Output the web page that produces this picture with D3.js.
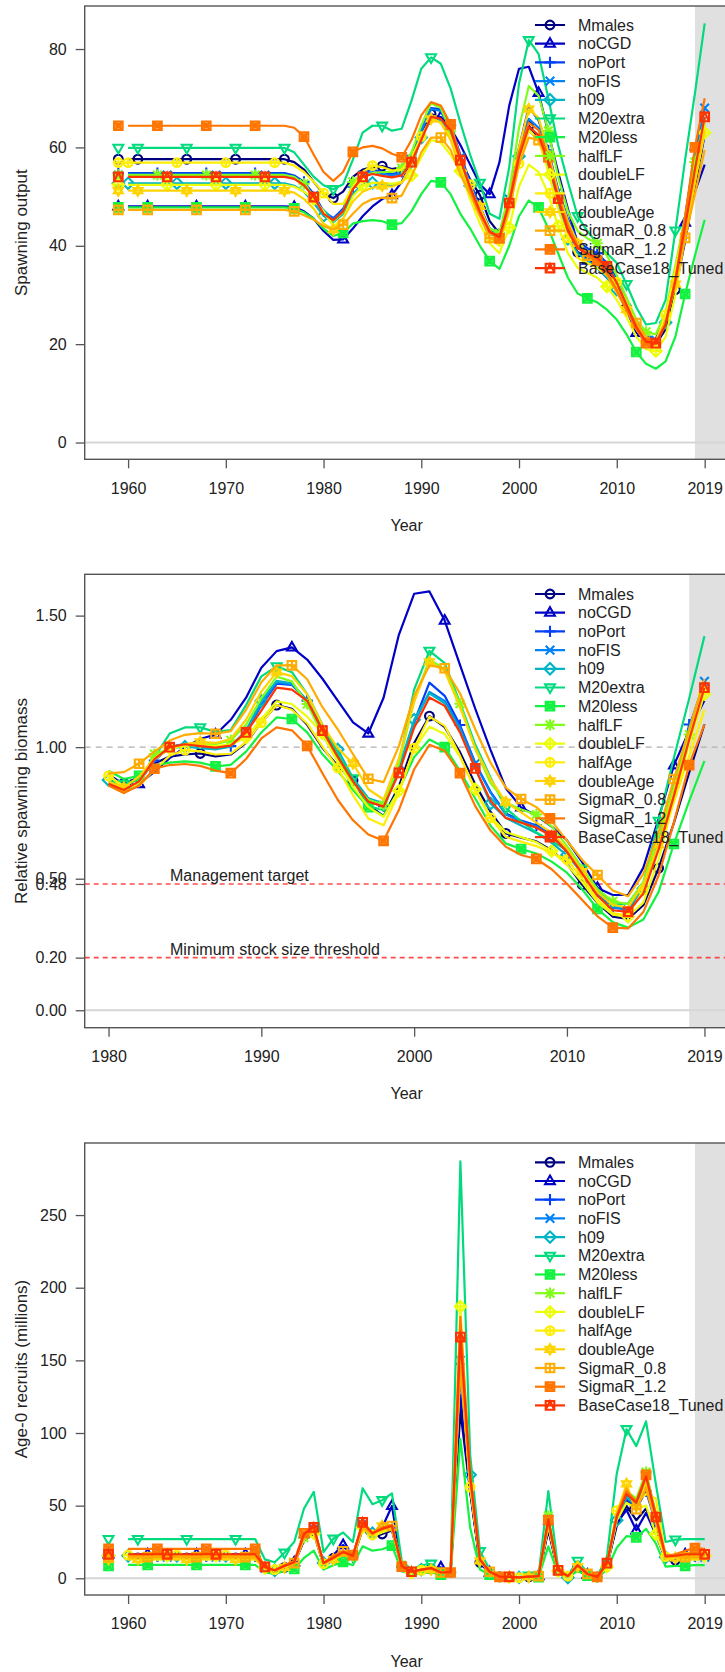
<!DOCTYPE html>
<html><head><meta charset="utf-8">
<script src="https://cdn.jsdelivr.net/npm/d3@7"></script>
<style>
body{margin:0;background:#fff;}
svg{display:block;font-family:"Liberation Sans",Arial,Helvetica,sans-serif;}
</style></head><body>
<svg id="chart" width="725" height="1672"></svg>
<script>
// ---------------- DATA ----------------
const modelNames = ["Mmales","noCGD","noPort","noFIS","h09","M20extra","M20less","halfLF","doubleLF","halfAge","doubleAge","SigmaR_0.8","SigmaR_1.2","BaseCase18_Tuned"];
const modelColors = ["#00007E","#0000C6","#0041F8","#0081F8","#00B4C6","#02DA7E","#13F240","#80FE1A","#ECFD08","#FDEE02","#FFD300","#FFAB00","#FF7500","#FF3300"];

const yearsAll = [1960,1961,1962,1963,1964,1965,1966,1967,1968,1969,1970,1971,1972,1973,1974,1975,1976,1977,1978,1979,1980,1981,1982,1983,1984,1985,1986,1987,1988,1989,1990,1991,1992,1993,1994,1995,1996,1997,1998,1999,2000,2001,2002,2003,2004,2005,2006,2007,2008,2009,2010,2011,2012,2013,2014,2015,2016,2017,2018,2019];
const yearsRel = [1980,1981,1982,1983,1984,1985,1986,1987,1988,1989,1990,1991,1992,1993,1994,1995,1996,1997,1998,1999,2000,2001,2002,2003,2004,2005,2006,2007,2008,2009,2010,2011,2012,2013,2014,2015,2016,2017,2018,2019];

// Spawning output (1960-2019)
const SO_Mmales = [57.6,57.6,57.6,57.6,57.6,57.6,57.6,57.6,57.6,57.6,57.6,57.6,57.6,57.6,57.6,57.6,57.6,57.0,55.5,53.0,50.5,49.7,51.0,54.0,55.5,56.0,56.2,55.6,56.0,58.5,63.0,66.8,66.0,62.5,57.5,53.5,50.3,45.0,42.5,49.0,58.5,64.4,62.0,56.5,49.5,43.5,38.7,37.8,37.0,35.0,32.0,27.5,23.5,20.5,20.0,23.0,31.1,41.0,52.0,62.6];
const SO_noCGD = [48.0,48.0,48.0,48.0,48.0,48.0,48.0,48.0,48.0,48.0,48.0,48.0,48.0,48.0,48.0,48.0,48.0,47.9,47.0,45.5,43.0,41.2,41.3,43.5,46.0,48.0,49.5,50.3,53.0,57.0,62.5,65.5,66.2,64.0,60.5,56.5,52.5,50.5,57.0,68.5,76.0,76.4,71.1,63.0,55.0,47.5,40.5,37.0,35.5,33.5,31.0,27.0,22.3,21.0,21.0,26.0,35.0,44.7,51.0,56.5];
const SO_noPort = [54.8,54.8,54.8,54.8,54.8,54.8,54.8,54.8,54.8,54.8,54.8,54.8,54.8,54.8,54.8,54.8,54.8,54.3,53.0,50.5,47.0,45.6,47.5,52.0,54.8,55.5,55.0,54.6,55.0,58.0,63.5,68.0,67.8,64.5,58.5,53.0,48.0,43.5,42.5,50.0,60.0,68.2,65.5,59.4,51.5,45.5,41.0,39.5,38.5,36.5,33.5,29.0,24.5,21.5,21.0,25.0,34.0,45.5,59.5,66.0];
const SO_noFIS = [54.4,54.4,54.4,54.4,54.4,54.4,54.4,54.4,54.4,54.4,54.4,54.4,54.4,54.4,54.4,54.4,54.4,53.9,52.6,50.2,46.8,45.4,47.2,51.8,54.4,55.0,54.6,54.3,54.7,57.6,63.2,67.8,67.4,64.0,58.0,52.5,47.5,43.2,42.2,49.5,59.5,65.8,64.0,58.5,51.0,45.0,40.5,39.0,38.0,36.0,33.0,28.5,24.0,21.2,20.8,25.0,34.5,46.0,58.5,68.0];
const SO_h09 = [52.7,52.7,52.7,52.7,52.7,52.7,52.7,52.7,52.7,52.7,52.7,52.7,52.7,52.7,52.7,52.7,52.7,52.2,51.0,48.7,46.1,44.8,46.5,50.5,52.5,52.8,52.5,52.2,52.8,56.0,62.0,66.0,65.5,62.0,56.5,52.2,46.5,42.5,41.5,48.5,58.2,63.5,61.5,56.0,48.5,41.4,38.5,37.0,35.5,33.5,31.1,27.5,23.5,21.0,20.5,24.4,33.5,45.0,56.5,65.0];
const SO_M20extra = [59.9,59.9,59.9,59.9,59.9,59.9,59.9,59.9,59.9,59.9,59.9,59.9,59.9,59.9,59.9,59.9,59.9,59.0,56.5,54.0,52.3,51.5,52.5,57.5,63.0,64.4,64.4,63.4,63.8,69.5,76.0,78.3,77.0,72.0,65.0,58.5,52.8,46.5,45.5,56.0,73.0,81.8,79.0,70.0,60.5,53.0,46.0,43.0,40.5,38.5,36.5,32.2,27.5,24.0,24.3,29.0,43.1,57.5,71.0,85.2];
const SO_M20less = [47.8,47.8,47.8,47.8,47.8,47.8,47.8,47.8,47.8,47.8,47.8,47.8,47.8,47.8,47.8,47.8,47.8,47.6,46.8,45.5,43.5,42.0,42.6,44.5,45.0,45.2,45.0,44.3,44.6,47.0,50.5,53.2,52.9,50.5,46.5,43.5,40.0,36.9,35.3,40.0,46.0,49.2,47.8,43.5,38.5,33.5,30.3,29.3,28.5,27.0,25.0,22.0,18.4,16.0,15.0,16.5,21.5,30.2,38.0,45.3];
const SO_halfLF = [54.4,54.4,54.4,54.4,54.4,54.4,54.4,54.4,54.4,54.4,54.4,54.4,54.4,54.4,54.4,54.4,54.4,54.0,52.6,50.0,46.5,45.0,46.8,53.0,54.0,54.8,55.0,55.0,55.8,59.0,64.5,69.0,68.0,63.3,57.0,51.5,47.0,43.5,42.5,51.0,64.0,72.5,70.5,63.4,54.0,47.0,43.0,41.5,40.5,38.0,34.0,29.5,25.0,22.5,22.0,26.5,36.0,46.0,57.0,66.0];
const SO_doubleLF = [52.4,52.4,52.4,52.4,52.4,52.4,52.4,52.4,52.4,52.4,52.4,52.4,52.4,52.4,52.4,52.4,52.4,52.0,51.0,49.5,47.0,44.0,45.5,50.0,52.2,52.8,52.8,52.6,53.0,54.3,58.0,61.5,61.0,58.5,55.2,49.5,44.5,40.5,38.5,43.7,52.0,56.5,55.0,50.5,44.0,38.5,35.5,34.5,33.5,31.7,29.0,25.5,21.5,19.0,18.6,21.5,30.0,42.0,53.0,63.0];
const SO_halfAge = [56.9,56.9,56.9,56.9,56.9,56.9,56.9,56.9,56.9,56.9,56.9,56.9,56.9,56.9,56.9,56.9,56.9,56.3,55.0,53.0,50.7,48.5,48.5,52.0,55.0,56.3,56.0,55.3,55.5,58.0,62.2,66.0,65.0,62.0,57.0,52.4,46.5,41.5,40.0,47.0,56.7,63.5,61.5,55.0,47.5,41.6,37.5,36.5,35.5,34.0,32.6,28.5,24.0,21.0,20.5,26.0,35.0,45.0,55.0,65.0];
const SO_doubleAge = [51.2,51.2,51.2,51.2,51.2,51.2,51.2,51.2,51.2,51.2,51.2,51.2,51.2,51.2,51.2,51.2,51.2,50.8,49.5,47.5,44.5,43.3,45.5,49.0,51.0,51.8,52.2,52.0,52.8,56.5,62.0,65.8,65.0,61.5,55.5,51.0,48.0,43.0,41.0,49.0,60.0,67.8,66.0,59.0,51.0,45.0,40.5,38.5,36.5,34.5,31.5,27.0,23.0,20.5,20.0,24.5,32.2,42.5,53.0,63.5];
const SO_SigmaR_0_8 = [47.3,47.3,47.3,47.3,47.3,47.3,47.3,47.3,47.3,47.3,47.3,47.3,47.3,47.3,47.3,47.3,47.3,47.0,46.2,45.3,44.0,43.3,44.3,46.5,48.5,49.5,49.8,49.7,50.2,54.0,59.0,62.0,62.0,59.5,54.5,50.5,46.0,41.6,41.0,47.5,56.5,62.0,61.5,57.0,50.5,44.5,40.0,38.0,36.5,34.0,30.5,27.0,24.3,21.5,20.5,24.5,32.0,41.6,50.5,59.5];
const SO_SigmaR_1_2 = [64.4,64.4,64.4,64.4,64.4,64.4,64.4,64.4,64.4,64.4,64.4,64.4,64.4,64.4,64.4,64.4,64.4,64.0,62.2,58.5,55.0,53.2,55.0,59.1,60.0,60.3,59.8,58.7,58.0,61.5,66.5,69.2,68.5,64.7,58.0,51.5,46.5,43.0,41.5,49.0,59.0,65.0,63.5,58.0,50.0,44.0,40.0,38.0,37.0,34.5,31.0,27.0,23.0,20.2,20.0,24.0,33.0,46.0,60.0,70.0];
const SO_BaseCase = [54.0,54.0,54.0,54.0,54.0,54.0,54.0,54.0,54.0,54.0,54.0,54.0,54.0,54.0,54.0,54.0,54.0,53.6,52.3,49.9,46.5,45.2,47.0,51.5,54.0,54.6,54.2,53.9,54.3,57.0,61.5,66.2,65.8,63.5,57.4,52.0,47.0,42.8,41.8,48.7,58.0,64.2,62.5,57.0,49.6,43.0,39.5,38.5,37.5,35.8,32.5,28.0,23.5,20.5,20.2,24.0,33.0,44.0,55.5,66.2];
// Virgin spawning output (plotted at 1959)
const SO_virgin = [57.6,48.0,54.8,54.4,52.7,59.9,47.8,54.4,52.4,56.9,51.2,47.3,64.4,54.0];

// Relative spawning biomass (1980-2019)
const RB_Mmales = [0.877,0.863,0.885,0.938,0.964,0.972,0.976,0.965,0.972,1.016,1.094,1.160,1.146,1.085,0.998,0.929,0.873,0.781,0.738,0.851,1.016,1.118,1.076,0.981,0.859,0.755,0.672,0.656,0.642,0.608,0.556,0.477,0.408,0.356,0.347,0.399,0.540,0.712,0.903,1.087];
const RB_noCGD = [0.896,0.858,0.860,0.906,0.958,1.000,1.031,1.048,1.104,1.188,1.302,1.365,1.379,1.333,1.260,1.177,1.094,1.052,1.188,1.427,1.583,1.592,1.481,1.313,1.146,0.990,0.844,0.771,0.740,0.698,0.646,0.563,0.465,0.438,0.438,0.542,0.729,0.931,1.063,1.177];
const RB_noPort = [0.858,0.832,0.867,0.949,1.000,1.013,1.004,0.996,1.004,1.058,1.159,1.241,1.237,1.177,1.068,0.967,0.876,0.794,0.776,0.912,1.095,1.245,1.195,1.084,0.940,0.830,0.748,0.721,0.703,0.666,0.611,0.529,0.447,0.392,0.383,0.456,0.620,0.830,1.086,1.204];
const RB_noFIS = [0.860,0.835,0.868,0.952,1.000,1.011,1.004,0.998,1.006,1.059,1.162,1.246,1.239,1.176,1.066,0.965,0.873,0.794,0.776,0.910,1.094,1.210,1.176,1.075,0.938,0.827,0.744,0.717,0.699,0.662,0.607,0.524,0.441,0.390,0.382,0.460,0.634,0.846,1.075,1.250];
const RB_h09 = [0.875,0.850,0.882,0.958,0.996,1.002,0.996,0.991,1.002,1.063,1.176,1.252,1.243,1.176,1.072,0.991,0.882,0.806,0.787,0.920,1.104,1.205,1.167,1.063,0.920,0.786,0.731,0.702,0.674,0.636,0.590,0.522,0.446,0.398,0.389,0.463,0.636,0.854,1.072,1.233];
const RB_M20extra = [0.873,0.860,0.876,0.960,1.052,1.075,1.075,1.058,1.065,1.160,1.269,1.307,1.285,1.202,1.085,0.977,0.881,0.776,0.760,0.935,1.219,1.366,1.319,1.169,1.010,0.885,0.768,0.718,0.676,0.643,0.609,0.538,0.459,0.401,0.406,0.484,0.720,0.960,1.185,1.422];
const RB_M20less = [0.910,0.879,0.891,0.931,0.941,0.946,0.941,0.927,0.933,0.983,1.056,1.113,1.107,1.056,0.973,0.910,0.837,0.772,0.738,0.837,0.962,1.029,1.000,0.910,0.805,0.701,0.634,0.613,0.596,0.565,0.523,0.460,0.385,0.335,0.314,0.345,0.450,0.632,0.795,0.948];
const RB_halfLF = [0.855,0.827,0.860,0.974,0.993,1.007,1.011,1.011,1.026,1.085,1.186,1.268,1.250,1.164,1.048,0.947,0.864,0.800,0.781,0.938,1.176,1.333,1.296,1.165,0.993,0.864,0.790,0.763,0.744,0.699,0.625,0.542,0.460,0.414,0.404,0.487,0.662,0.846,1.048,1.213];
const RB_doubleLF = [0.897,0.840,0.868,0.954,0.996,1.008,1.008,1.004,1.011,1.036,1.107,1.174,1.164,1.116,1.053,0.945,0.849,0.773,0.735,0.834,0.992,1.078,1.050,0.964,0.840,0.735,0.677,0.658,0.639,0.605,0.553,0.487,0.410,0.363,0.355,0.410,0.573,0.802,1.011,1.202];
const RB_halfAge = [0.891,0.852,0.852,0.914,0.967,0.989,0.984,0.972,0.975,1.019,1.093,1.160,1.142,1.090,1.002,0.921,0.817,0.729,0.703,0.826,0.996,1.116,1.081,0.967,0.835,0.731,0.659,0.641,0.624,0.598,0.573,0.501,0.422,0.369,0.360,0.457,0.615,0.791,0.967,1.142];
const RB_doubleAge = [0.869,0.846,0.889,0.957,0.996,1.012,1.020,1.016,1.031,1.104,1.211,1.285,1.270,1.201,1.084,0.996,0.938,0.840,0.801,0.957,1.172,1.324,1.289,1.152,0.996,0.879,0.791,0.752,0.713,0.674,0.615,0.527,0.449,0.400,0.391,0.479,0.629,0.830,1.035,1.240];
const RB_SigmaR_0_8 = [0.900,0.905,0.937,0.983,1.025,1.047,1.053,1.051,1.061,1.142,1.247,1.311,1.311,1.258,1.152,1.068,0.973,0.880,0.867,1.004,1.195,1.311,1.300,1.205,1.068,0.941,0.846,0.803,0.772,0.719,0.645,0.571,0.514,0.455,0.433,0.518,0.677,0.879,1.068,1.258];
const RB_SigmaR_1_2 = [0.854,0.826,0.854,0.918,0.932,0.936,0.929,0.911,0.901,0.955,1.033,1.075,1.064,1.005,0.901,0.800,0.722,0.668,0.644,0.761,0.916,1.009,0.986,0.901,0.776,0.683,0.621,0.590,0.575,0.536,0.481,0.419,0.357,0.314,0.311,0.373,0.512,0.714,0.932,1.087];
const RB_BaseCase = [0.861,0.837,0.870,0.954,1.000,1.011,1.004,0.998,1.006,1.056,1.139,1.226,1.219,1.176,1.063,0.963,0.870,0.793,0.774,0.902,1.074,1.189,1.157,1.056,0.919,0.796,0.731,0.713,0.694,0.663,0.602,0.519,0.435,0.380,0.374,0.444,0.611,0.815,1.028,1.226];

// Age-0 recruits, millions (1960-2019)
const REC_Mmales = [14.0,14.0,14.0,14.0,14.0,14.0,14.0,14.0,14.0,14.0,14.0,14.0,14.0,14.0,6.5,4.5,7.5,10.0,26.0,31.0,9.0,13.8,16.0,13.0,34.0,28.0,30.5,33.0,7.5,4.0,5.5,6.5,3.5,3.5,115.0,60.0,11.0,4.0,1.0,0.8,0.5,1.0,1.2,33.0,4.5,1.2,7.5,2.5,0.8,8.5,36.0,49.8,40.0,48.0,33.0,12.5,12.5,14.0,14.0,14.0];
const REC_noCGD = [16.5,16.5,16.5,16.5,16.5,16.5,16.5,16.5,16.5,16.5,16.5,16.5,16.5,16.5,6.5,4.5,7.5,11.0,27.0,33.0,9.5,16.0,22.9,15.0,34.0,30.0,35.0,49.8,8.0,4.0,5.5,7.0,7.5,4.0,126.0,60.0,10.0,4.0,1.0,0.8,0.5,1.0,1.5,35.0,4.5,1.2,7.5,2.5,0.8,8.5,38.0,47.0,33.0,45.0,30.0,13.0,13.0,16.5,16.5,16.5];
const REC_noPort = [15.0,15.0,15.0,15.0,15.0,15.0,15.0,15.0,15.0,15.0,15.0,15.0,15.0,15.0,7.0,5.0,8.0,10.5,28.0,33.5,10.0,13.5,17.0,14.5,36.0,30.0,32.5,35.0,8.0,4.2,5.8,6.8,3.8,4.0,140.0,66.0,12.0,4.2,1.1,0.9,0.5,1.1,1.4,37.0,5.0,1.3,8.5,2.8,0.9,9.5,40.0,55.0,48.0,60.0,38.0,14.0,14.5,15.0,15.0,15.0];
const REC_noFIS = [14.5,14.5,14.5,14.5,14.5,14.5,14.5,14.5,14.5,14.5,14.5,14.5,14.5,14.5,7.0,5.0,8.0,10.5,28.5,34.0,10.0,13.5,17.5,14.5,37.0,30.5,33.0,35.5,8.2,4.3,5.9,6.9,3.9,4.1,150.0,68.0,12.5,4.3,1.1,0.9,0.5,1.1,1.4,38.0,5.2,1.4,8.8,2.9,0.9,9.8,41.0,57.0,50.0,62.0,39.0,14.5,15.0,14.5,14.5,14.5];
const REC_h09 = [15.5,15.5,15.5,15.5,15.5,15.5,15.5,15.5,15.5,15.5,15.5,15.5,15.5,15.5,7.5,5.5,8.5,11.0,29.0,34.5,10.5,14.0,17.5,15.0,37.5,31.0,33.5,35.5,8.5,4.5,6.0,7.0,4.0,4.2,160.0,71.2,13.0,4.5,1.2,1.0,0.6,1.2,1.5,39.0,5.5,0.5,9.0,3.0,1.0,10.0,40.0,56.0,50.0,66.0,40.0,14.5,15.0,15.5,15.5,15.5];
const REC_M20extra = [27.0,27.0,27.0,27.0,27.0,27.0,27.0,27.0,27.0,27.0,27.0,27.0,27.0,27.0,13.0,11.0,17.6,25.0,48.0,59.5,18.0,27.2,31.5,25.0,62.0,51.0,53.7,58.5,12.0,6.0,9.0,10.0,5.0,5.5,287.0,85.0,18.6,6.0,1.5,1.2,0.8,1.8,2.0,60.0,7.0,2.0,12.0,4.0,1.2,15.0,72.0,102.6,91.0,108.0,65.0,25.0,26.6,27.0,27.0,27.0];
const REC_M20less = [9.2,9.2,9.2,9.2,9.2,9.2,9.2,9.2,9.2,9.2,9.2,9.2,9.2,9.2,4.0,3.0,5.0,6.4,14.0,19.0,6.0,9.0,11.3,9.0,22.0,19.0,20.0,22.5,5.0,2.5,3.5,4.0,2.5,2.5,96.0,35.0,6.0,2.5,0.7,0.5,0.3,0.7,0.8,22.0,3.0,0.8,5.0,1.8,0.5,6.0,21.0,29.0,28.2,34.0,24.0,8.0,8.5,8.6,9.0,9.0];
const REC_halfLF = [15.5,15.5,15.5,15.5,15.5,15.5,15.5,15.5,15.5,15.5,15.5,15.5,15.5,15.5,7.5,5.5,8.5,11.0,28.0,34.0,10.5,14.0,17.5,15.0,37.0,31.0,34.0,36.0,9.0,4.5,6.0,7.0,4.0,4.2,155.0,68.0,13.0,4.5,1.0,1.0,0.6,1.2,1.5,43.0,5.5,1.5,9.0,3.0,0.8,10.5,44.0,60.0,55.0,73.1,45.0,15.5,16.0,15.5,15.5,15.5];
const REC_doubleLF = [15.5,15.5,15.5,15.5,15.5,15.5,15.5,15.5,15.5,15.5,15.5,15.5,15.5,15.5,7.0,5.0,8.0,10.5,28.0,31.0,10.0,13.5,17.0,14.5,35.0,29.0,31.5,34.0,8.0,4.0,5.5,6.5,3.8,4.0,187.0,65.0,13.0,4.2,1.0,0.8,0.5,1.0,1.2,36.0,5.0,1.2,8.0,2.8,0.8,8.0,40.0,52.0,48.0,50.0,30.5,13.5,14.5,15.5,15.5,15.5];
const REC_halfAge = [16.0,16.0,16.0,16.0,16.0,16.0,16.0,16.0,16.0,16.0,16.0,16.0,16.0,16.0,7.5,6.0,9.0,11.0,29.0,33.5,10.1,14.0,17.5,15.0,36.0,29.8,33.0,35.0,8.5,4.5,5.5,6.5,4.0,4.0,148.5,62.8,13.2,4.5,1.0,0.8,0.4,1.0,1.3,38.0,5.0,1.5,8.5,2.8,0.9,9.5,46.5,60.0,52.0,58.0,55.0,14.9,15.0,16.0,16.0,16.0];
const REC_doubleAge = [13.0,13.0,13.0,13.0,13.0,13.0,13.0,13.0,13.0,13.0,13.0,13.0,13.0,13.0,6.5,5.0,7.5,10.0,27.0,32.0,9.5,13.0,16.0,13.5,34.0,29.0,36.0,34.7,7.5,4.0,5.0,6.0,3.5,3.5,150.0,64.0,12.0,4.0,1.0,0.8,0.5,1.0,1.2,38.0,4.8,1.2,8.0,2.8,0.8,9.0,44.0,65.0,46.0,66.0,40.0,13.5,14.0,13.0,13.0,13.0];
const REC_SigmaR_0_8 = [14.5,14.5,14.5,14.5,14.5,14.5,14.5,14.5,14.5,14.5,14.5,14.5,14.5,14.5,7.0,5.5,8.5,10.5,28.0,33.0,10.0,14.5,18.6,15.0,35.0,30.0,38.5,36.0,8.5,4.5,6.0,7.0,4.0,4.2,145.0,66.0,12.5,4.5,1.2,1.0,0.6,1.2,1.5,38.5,5.2,1.4,8.5,3.0,1.0,9.5,44.0,62.0,47.6,62.0,38.0,14.5,15.0,14.5,14.5,14.5];
const REC_SigmaR_1_2 = [20.3,20.3,20.3,20.3,20.3,20.3,20.3,20.3,20.3,20.3,20.3,20.3,20.3,20.3,7.8,5.5,9.0,12.0,31.0,36.0,10.5,15.5,18.6,16.0,38.0,31.0,35.0,36.5,8.0,4.5,6.0,7.0,4.0,4.0,180.0,72.0,13.0,4.5,1.0,0.9,0.5,1.2,1.5,40.0,5.5,1.5,9.0,3.0,1.0,10.0,43.0,60.0,53.0,71.2,44.0,15.5,16.5,19.0,20.7,20.3];
const REC_BaseCase = [16.5,16.5,16.5,16.5,16.5,16.5,16.5,16.5,16.5,16.5,16.5,16.5,16.5,16.5,7.8,5.5,8.5,11.0,30.5,35.0,10.5,14.0,18.0,15.5,38.5,31.0,34.0,36.0,8.5,4.5,6.0,7.0,4.0,4.2,166.0,70.4,13.0,4.5,1.2,1.0,0.6,1.2,1.5,40.6,5.5,1.5,9.0,3.0,1.0,10.4,42.0,58.0,52.0,70.0,42.2,15.0,15.5,16.5,16.5,16.5];
// Virgin recruitment (plotted at 1958)
const REC_virgin = [14.0,16.5,15.0,14.5,15.5,27.0,8.5,15.5,15.5,16.0,13.0,14.5,20.3,16.5];

// Tick labels
const xTicksLong = [1960,1970,1980,1990,2000,2010,2019];
const xTicksShort = [1980,1990,2000,2010,2019];
const yTicksSO = [0,20,40,60,80];
const yTicksRB = [0,0.2,0.48,0.5,1.0,1.5];
const yTickLabelsRB = ["0.00","0.20","0.48","0.50","1.00","1.50"];
const yTicksREC = [0,50,100,150,200,250];

// ---------------- DRAWING ----------------
const svg = d3.select("#chart");
const W = 725;
const LEFT = 84.7;

function markerPath(k){
  const r=4.4, s=4.3;
  const circ = `M${-r},0A${r},${r} 0 1,0 ${r},0A${r},${r} 0 1,0 ${-r},0Z`;
  const sq = `M${-s},${-s}H${s}V${s}H${-s}Z`;
  const plus = "M-5.6,0H5.6M0,-5.6V5.6";
  const cross = "M-4.3,-4.3L4.3,4.3M-4.3,4.3L4.3,-4.3";
  const triU = "M0,-5.5L4.9,3.1L-4.9,3.1Z";
  const triD = "M0,5.5L4.9,-3.1L-4.9,-3.1Z";
  const dia = "M0,-5.7L5.7,0L0,5.7L-5.7,0Z";
  switch(k){
    case 0: return circ;
    case 1: return triU;
    case 2: return plus;
    case 3: return cross;
    case 4: return dia;
    case 5: return triD;
    case 6: return sq + `M${-s},${-s}L${s},${s}M${-s},${s}L${s},${-s}` + "M-2,-2H2V2H-2Z";
    case 7: return plus + cross;
    case 8: return dia + "M-5.7,0H5.7M0,-5.7V5.7";
    case 9: return circ + `M${-r},0H${r}M0,${-r}V${r}`;
    case 10: return "M0,-5.1L4.5,2.6L-4.5,2.6Z M0,5.1L4.5,-2.6L-4.5,-2.6Z";
    case 11: return sq + `M${-s},0H${s}M0,${-s}V${s}`;
    case 12: return sq + `M${-s},${-s}L${s},${s}M${-s},${s}L${s},${-s}` + "M-2,-2H2V2H-2Z";
    case 13: return sq + `M${-s},${s}L0,${-s}L${s},${s}`;
  }
}

function hasMarker(year,k){ return ((year-1961-k)%5+5)%5===0; }

let clipId = 0;
function drawPanel(p){
  const x = d3.scaleLinear().domain(p.xDom).range([LEFT, LEFT + (p.xDom[1]-p.xDom[0])*p.pxYear]);
  const y = d3.scaleLinear().domain(p.yDom).range([p.bottom, p.top]);
  const g = svg.append("g");
  const cid = "clip"+(clipId++);
  g.append("clipPath").attr("id",cid).append("rect")
    .attr("x",LEFT).attr("y",p.top).attr("width",W-LEFT+10).attr("height",p.bottom-p.top);
  const plot = g.append("g").attr("clip-path",`url(#${cid})`);

  // forecast shading
  plot.append("rect").attr("x",x(2018)).attr("y",p.top)
    .attr("width",W-x(2018)+10).attr("height",p.bottom-p.top).attr("fill","#e0e0e0");

  // zero line
  plot.append("line").attr("x1",LEFT).attr("x2",W+10).attr("y1",y(0)).attr("y2",y(0))
    .attr("stroke","#d6d6d6").attr("stroke-width",2);

  if(p.refs){
    plot.append("line").attr("x1",LEFT).attr("x2",W+10).attr("y1",y(1)).attr("y2",y(1))
      .attr("stroke","#b0b0b0").attr("stroke-width",1.3).attr("stroke-dasharray","6,5");
    [0.48,0.2].forEach(v=>{
      plot.append("line").attr("x1",LEFT).attr("x2",W+10).attr("y1",y(v)).attr("y2",y(v))
        .attr("stroke","#ff2a2a").attr("stroke-opacity",0.85).attr("stroke-width",1.6).attr("stroke-dasharray","5,4");
    });
    plot.append("text").attr("x",170).attr("y",y(0.48)-3).text("Management target")
      .attr("font-size",16).attr("fill","#222");
    plot.append("text").attr("x",170).attr("y",y(0.2)-3).text("Minimum stock size threshold")
      .attr("font-size",16).attr("fill","#222");
  }

  const line = d3.line().x(d=>x(d[0])).y(d=>y(d[1]));
  p.data.forEach((vals,k)=>{
    const pts = p.years.map((yr,i)=>[yr,vals[i]]);
    const col = modelColors[k];
    plot.append("path").attr("d",line(pts)).attr("fill","none")
      .attr("stroke",col).attr("stroke-width",2.2).attr("stroke-linejoin","round");
    const mk = pts.filter(d=>hasMarker(d[0],k));
    if(p.virgin) mk.push([p.virginYear,p.virgin[k]]);
    plot.selectAll(null).data(mk).enter().append("path")
      .attr("d",markerPath(k)).attr("transform",d=>`translate(${x(d[0])},${y(d[1])})`)
      .attr("fill","none").attr("stroke",col).attr("stroke-width",2.1);
  });

  // legend
  const lg = plot.append("g");
  modelNames.forEach((nm,k)=>{
    const ly = p.legendTop + k*18.7;
    lg.append("line").attr("x1",535).attr("x2",565).attr("y1",ly).attr("y2",ly)
      .attr("stroke",modelColors[k]).attr("stroke-width",2.2);
    lg.append("path").attr("d",markerPath(k)).attr("transform",`translate(550,${ly})`)
      .attr("fill","none").attr("stroke",modelColors[k]).attr("stroke-width",2.1);
    lg.append("text").attr("x",578).attr("y",ly).attr("dy","0.35em").text(nm)
      .attr("font-size",16).attr("fill","#222");
  });

  // frame
  g.append("rect").attr("x",LEFT).attr("y",p.top).attr("width",W).attr("height",p.bottom-p.top)
    .attr("fill","none").attr("stroke","#555").attr("stroke-width",1.4);

  // axes
  const ya = d3.axisLeft(y).tickValues(p.yTicks).tickSize(9).tickPadding(9)
    .tickFormat((d,i)=>p.yLabels[i]);
  const yg = g.append("g").attr("transform",`translate(${LEFT},0)`).call(ya);
  const xa = d3.axisBottom(x).tickValues(p.xTicks).tickSize(9).tickPadding(14).tickFormat(d=>String(d));
  const xg = g.append("g").attr("transform",`translate(0,${p.bottom})`).call(xa);
  [yg,xg].forEach(a=>{
    a.select(".domain").remove();
    a.selectAll("line").attr("stroke","#555").attr("stroke-width",1.3);
    a.selectAll("text").attr("font-size",16).attr("fill","#222")
      .attr("font-family",'"Liberation Sans",Arial,Helvetica,sans-serif');
  });

  g.append("text").attr("x",(LEFT+728.5)/2).attr("y",p.bottom+66).attr("dy","0.35em")
    .attr("text-anchor","middle").attr("font-size",16).attr("fill","#222").text("Year");
  g.append("text").attr("transform",`translate(21,${(p.top+p.bottom)/2}) rotate(-90)`)
    .attr("dy","0.35em").attr("text-anchor","middle").attr("font-size",17).attr("fill","#222").text(p.ylab);
}

drawPanel({
  top:6, bottom:459.3, xDom:[1955.56,2021.44], pxYear:9.773, yDom:[-3.41,88.75],
  yTicks:yTicksSO, yLabels:yTicksSO.map(String), xTicks:xTicksLong, ylab:"Spawning output",
  years:yearsAll,
  data:[SO_Mmales,SO_noCGD,SO_noPort,SO_noFIS,SO_h09,SO_M20extra,SO_M20less,SO_halfLF,SO_doubleLF,SO_halfAge,SO_doubleAge,SO_SigmaR_0_8,SO_SigmaR_1_2,SO_BaseCase],
  virgin:SO_virgin, virginYear:1959, legendTop:25
});
drawPanel({
  top:574.3, bottom:1027.7, xDom:[1978.44,2020.56], pxYear:15.28, yDom:[-0.0663,1.657],
  yTicks:yTicksRB, yLabels:yTickLabelsRB, xTicks:xTicksShort, ylab:"Relative spawning biomass",
  years:yearsRel,
  data:[RB_Mmales,RB_noCGD,RB_noPort,RB_noFIS,RB_h09,RB_M20extra,RB_M20less,RB_halfLF,RB_doubleLF,RB_halfAge,RB_doubleAge,RB_SigmaR_0_8,RB_SigmaR_1_2,RB_BaseCase],
  refs:true, legendTop:594
});
drawPanel({
  top:1143, bottom:1595, xDom:[1955.56,2021.44], pxYear:9.773, yDom:[-11.5,299.6],
  yTicks:yTicksREC, yLabels:yTicksREC.map(String), xTicks:xTicksLong, ylab:"Age-0 recruits (millions)",
  years:yearsAll,
  data:[REC_Mmales,REC_noCGD,REC_noPort,REC_noFIS,REC_h09,REC_M20extra,REC_M20less,REC_halfLF,REC_doubleLF,REC_halfAge,REC_doubleAge,REC_SigmaR_0_8,REC_SigmaR_1_2,REC_BaseCase],
  virgin:REC_virgin, virginYear:1958, legendTop:1162.3
});
</script>
</body></html>
